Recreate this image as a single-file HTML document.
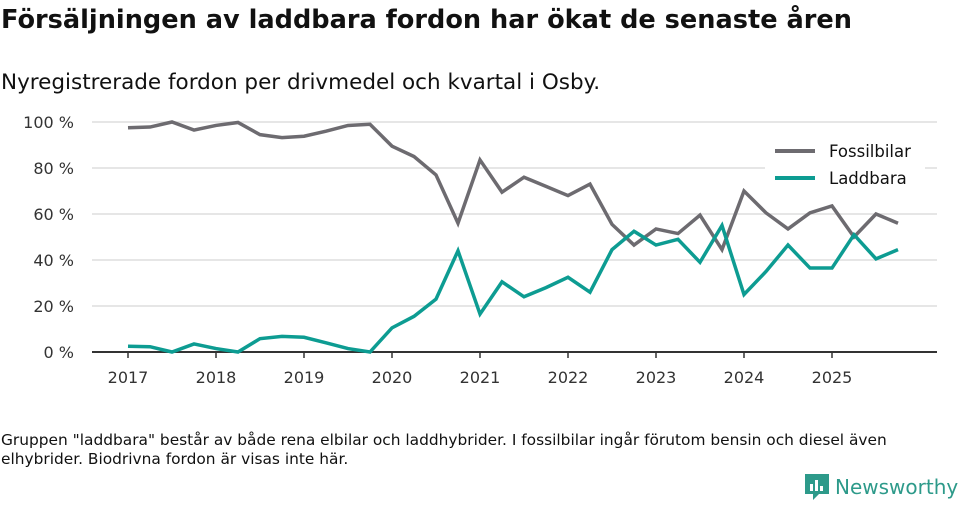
<!DOCTYPE html>
<html><head><meta charset="utf-8"><style>
body{margin:0;width:960px;height:505px;background:#fff;font-family:"DejaVu Sans","Liberation Sans",sans-serif;color:#111;position:relative;overflow:hidden}
.t{position:absolute;left:1px;top:5px;font-size:25.6px;font-weight:bold;margin:0}
.s{position:absolute;left:1px;top:70px;font-size:21.5px}
.n{position:absolute;left:1px;top:431px;font-size:15.4px;line-height:19px;width:955px}
.logo{position:absolute;left:805px;top:474px;font-size:20px;color:#2d9a8a;display:flex;align-items:center;gap:6px}
</style></head><body>
<h1 class="t">Försäljningen av laddbara fordon har ökat de senaste åren</h1>
<div class="s">Nyregistrerade fordon per drivmedel och kvartal i Osby.</div>
<svg id="c" width="960" height="420" style="position:absolute;left:0;top:0"></svg>
<div class="n">Gruppen "laddbara" består av både rena elbilar och laddhybrider. I fossilbilar ingår förutom bensin och diesel även elhybrider. Biodrivna fordon är visas inte här.</div>
<div class="logo"><svg width="24" height="26"><path d="M0 0H24V20H14L8 26V20H0Z" fill="#2d9a8a"/><rect x="5" y="10" width="3" height="7" fill="#fff"/><rect x="10" y="6" width="3" height="11" fill="#fff"/><rect x="15" y="12" width="3" height="5" fill="#fff"/></svg><span>Newsworthy</span></div>
<script>
const years=["2017","2018","2019","2020","2021","2022","2023","2024","2025"];
const yTicks=[0,20,40,60,80,100];
const fossil=[97.5,97.8,100,96.5,98.5,99.8,94.5,93.2,93.8,96,98.5,99,89.5,85,77,56,83.5,69.5,76,72,68,73,55.5,46.5,53.5,51.5,59.5,44.5,70,60.5,53.5,60.5,63.5,50,60,56];
const laddbara=[2.5,2.3,0,3.5,1.5,0,5.8,6.8,6.4,4,1.5,0,10.5,15.5,23,44,16.5,30.5,24,28,32.5,26,44.5,52.5,46.5,49,39,55,25,35,46.5,36.5,36.5,51,40.5,44.5];
const svg=document.getElementById('c');const NS='http://www.w3.org/2000/svg';
const x=i=>128+i*22, xy=y=>128+(y-2017)*88, y=v=>352-v*2.3;
function mk(t,a,p){const e=document.createElementNS(NS,t);for(const k in a)e.setAttribute(k,a[k]);(p||svg).appendChild(e);return e;}
yTicks.forEach(v=>{
 if(v>0){const g=mk('line',{x1:92,x2:937,y1:y(v),y2:y(v),stroke:'#ddd','stroke-width':1.5});
 
 }
 const t=mk('text',{x:74,y:y(v)+6,'text-anchor':'end','font-size':16,fill:'#333'});t.textContent=v+' %';
 
 
});
const ax=mk('line',{x1:92,x2:937,y1:352,y2:352,stroke:'#333','stroke-width':2});


years.forEach(yr=>{const X=xy(+yr);mk('line',{x1:X,x2:X,y1:352,y2:358,stroke:'#333','stroke-width':1.5});
 const t=mk('text',{x:X,y:383,'text-anchor':'middle','font-size':16,fill:'#333'});t.textContent=yr;
 
 });
function line(d,c,n){const p=mk('polyline',{points:d.map((v,i)=>x(i)+','+y(v)).join(' '),fill:'none',stroke:c,'stroke-width':3.5,'stroke-linejoin':'miter'});
 
 }
line(fossil,'#6d6b70','fossilbilar-line');
line(laddbara,'#0d9c92','laddbara-line');
mk('rect',{x:765,y:135,width:160,height:60,fill:'#fff'});
[['Fossilbilar','#6d6b70',151],['Laddbara','#0d9c92',178]].forEach(([l,c,Y])=>{
 const g=mk('g',{});
 
 mk('line',{x1:775,x2:815,y1:Y,y2:Y,stroke:c,'stroke-width':4},g);
 const t=mk('text',{x:829,y:Y+6,'font-size':16.5,fill:'#111'},g);t.textContent=l;});
</script>
</body></html>
